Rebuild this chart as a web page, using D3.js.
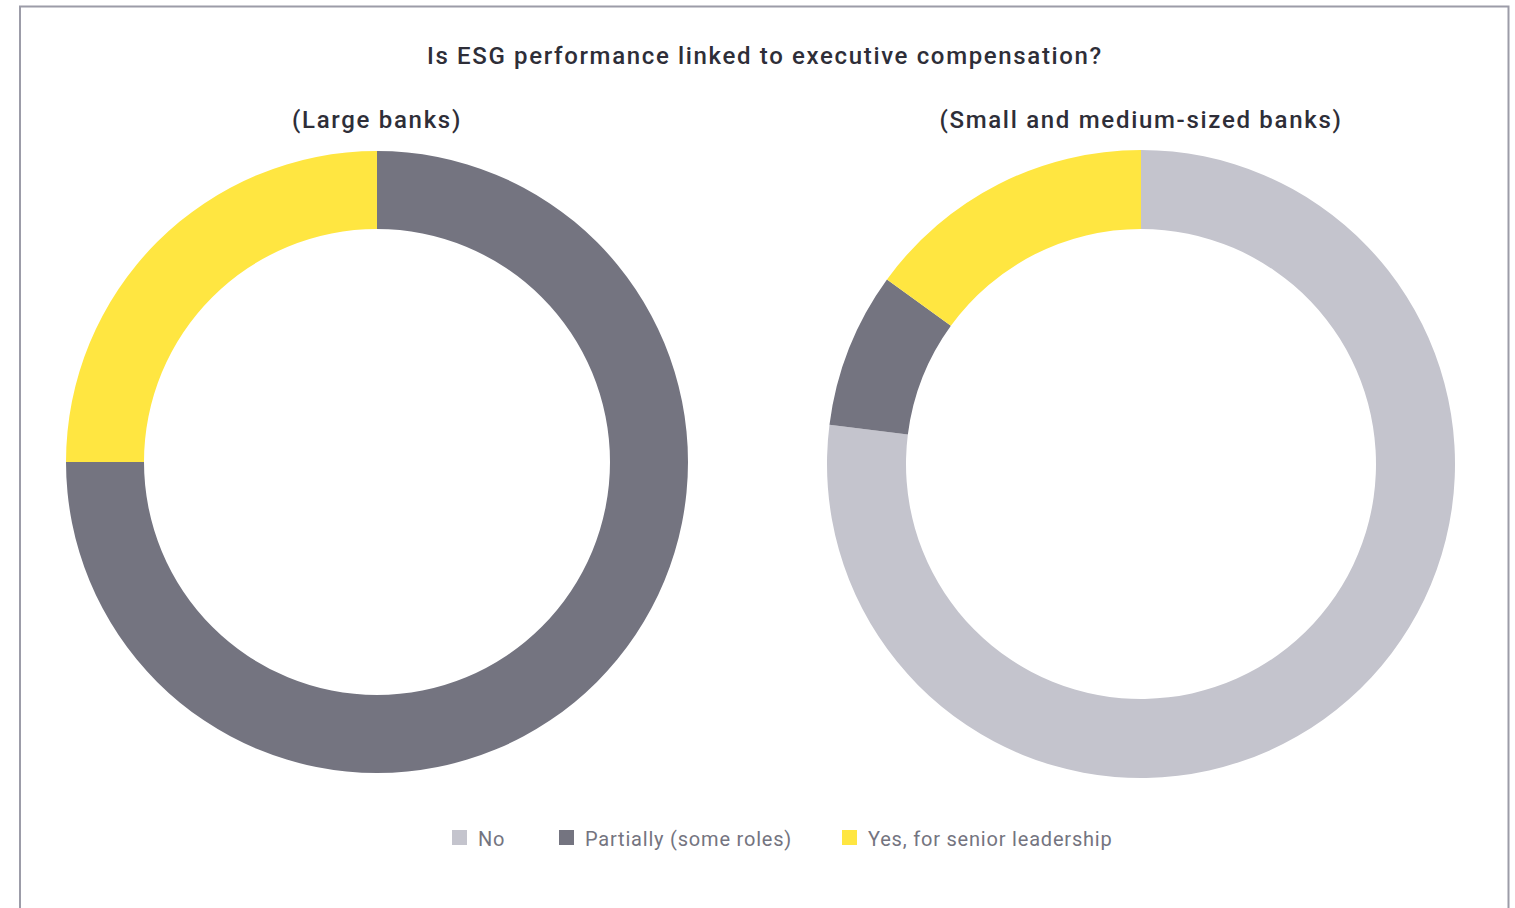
<!DOCTYPE html>
<html>
<head>
<meta charset="utf-8">
<script src="https://cdn.jsdelivr.net/npm/d3@7"></script>
<style>
  html, body { margin: 0; padding: 0; background: #fff; }
  svg { display: block; }
  text { font-family: Roboto, "Noto Sans", sans-serif; }
</style>
</head>
<body>
<svg id="chart" width="1515" height="908"></svg>
<script>
// Response categories and their colours
const categories = ["No", "Partially (some roles)", "Yes, for senior leadership"];
const colors = ["#C4C4CD", "#747480", "#FFE641"];

// Share of respondents (%) per bank group, in category order
const largeBanks = [0, 75, 25];
const smallMediumBanks = [77, 8, 15];

const panelTitles = ["(Large banks)", "(Small and medium-sized banks)"];
const chartTitle = "Is ESG performance linked to executive compensation?";

const svg = d3.select("#chart");
const W = 1515, H = 908;

// Outer frame
svg.append("path")
  .attr("d", `M20,${H + 2} V6.5 H1508.5 V${H + 2}`)
  .attr("fill", "none")
  .attr("stroke", "#9c9ca8")
  .attr("stroke-width", 2);

// Title
svg.append("text")
  .attr("x", 765).attr("y", 64)
  .attr("text-anchor", "middle")
  .attr("font-size", 24).attr("font-weight", 500)
  .attr("letter-spacing", 1.65)
  .attr("fill", "#2E2E38")
  .text(chartTitle);

const colorScale = d3.scaleOrdinal().domain(categories).range(colors);

const panels = [
  { values: largeBanks, cx: 377, cy: 462, r: 311, ri: 233, title: panelTitles[0] },
  { values: smallMediumBanks, cx: 1141, cy: 464, r: 314, ri: 235, title: panelTitles[1] }
];

const pie = d3.pie().sort(null).value(d => d.value);

panels.forEach(p => {
  const data = categories.map((c, i) => ({ category: c, value: p.values[i] }));
  const arc = d3.arc().innerRadius(p.ri).outerRadius(p.r);
  const g = svg.append("g").attr("transform", `translate(${p.cx},${p.cy})`);
  g.selectAll("path")
    .data(pie(data).filter(d => d.data.value > 0))
    .join("path")
    .attr("d", arc)
    .attr("fill", d => colorScale(d.data.category));

  svg.append("text")
    .attr("x", p.cx).attr("y", 128)
    .attr("text-anchor", "middle")
    .attr("font-size", 24).attr("font-weight", 500)
    .attr("letter-spacing", 1.7)
    .attr("fill", "#2E2E38")
    .text(p.title);
});

// Legend
const legendX = [452, 559, 842];
const legend = svg.append("g");
categories.forEach((c, i) => {
  legend.append("rect")
    .attr("x", legendX[i]).attr("y", 830)
    .attr("width", 15).attr("height", 15)
    .attr("fill", colorScale(c));
  legend.append("text")
    .attr("x", legendX[i] + 26).attr("y", 846)
    .attr("font-size", 20)
    .attr("letter-spacing", 0.8)
    .attr("fill", "#747480")
    .text(c);
});
</script>
</body>
</html>
